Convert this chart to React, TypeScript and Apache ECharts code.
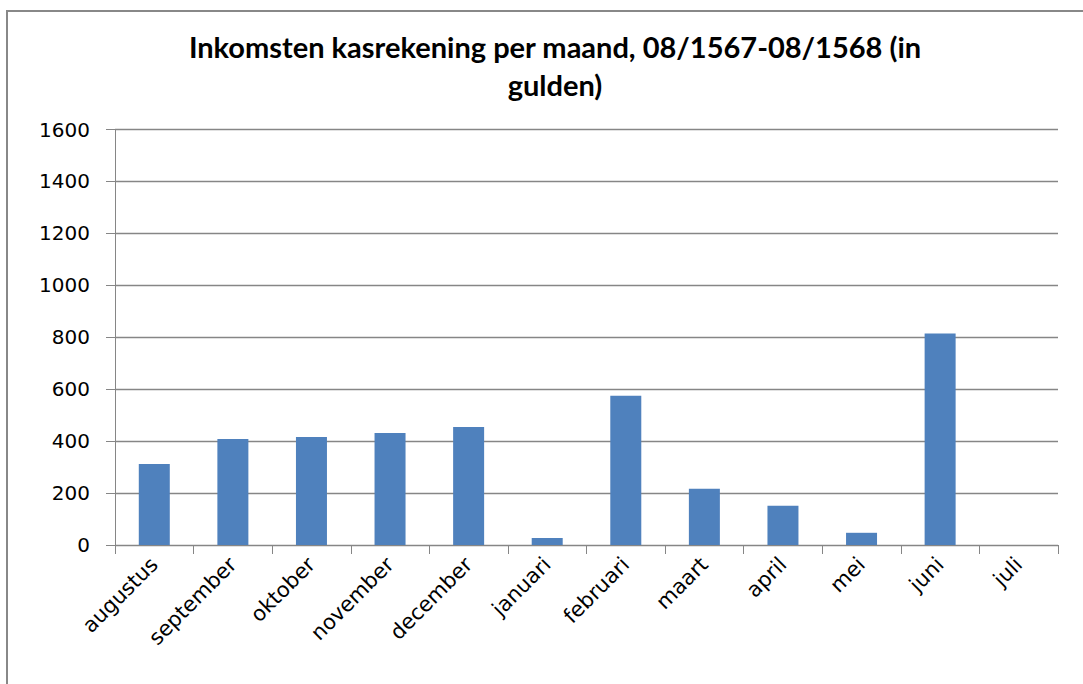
import React, { useEffect, useRef } from "react";
import * as echarts from "echarts";

const titleText = "Inkomsten kasrekening per maand, 08/1567-08/1568 (in\ngulden)";
const months = [
  "augustus", "september", "oktober", "november", "december", "januari",
  "februari", "maart", "april", "mei", "juni", "juli",
];
const income = [312, 408, 416, 431, 454, 27, 575, 217, 151, 47, 814, 0];
const yMin = 0;
const yMax = 1600;
const yStep = 200;

export default function App() {
  const ref = useRef<HTMLDivElement>(null);
  useEffect(() => {
    document.body.style.margin = "0";
    const chart = echarts.init(ref.current!, null, { renderer: "svg" });
    chart.setOption({
      animation: false,
      backgroundColor: "#ffffff",
      title: {
        text: titleText,
        left: 550,
        textAlign: "center",
        top: 22,
        textStyle: {
          fontFamily: "Lato",
          fontWeight: "bold",
          fontSize: 29,
          color: "#000000",
          lineHeight: 38,
        },
      },
      graphic: [
        {
          type: "rect",
          shape: { x: 7, y: 11, width: 1200, height: 800 },
          style: { fill: "none", stroke: "#888888", lineWidth: 2 },
          silent: true,
        },
      ],
      grid: { left: 115, right: 25, top: 129.5, bottom: 139 },
      xAxis: {
        type: "category",
        data: months,
        boundaryGap: true,
        axisLine: { show: true, lineStyle: { color: "#868686", width: 1 } },
        axisTick: { show: true, length: 9, lineStyle: { color: "#868686" } },
        axisLabel: {
          rotate: 45,
          interval: 0,
          margin: 16,
          fontFamily: "DejaVu Sans",
          fontSize: 21,
          color: "#000000",
        },
        splitLine: { show: false },
      },
      yAxis: {
        type: "value",
        min: yMin,
        max: yMax,
        interval: yStep,
        axisLine: { show: true, lineStyle: { color: "#868686", width: 1 } },
        axisTick: { show: true, length: 9, lineStyle: { color: "#868686" } },
        axisLabel: {
          margin: 25,
          fontFamily: "DejaVu Sans",
          fontSize: 20,
          color: "#000000",
          formatter: (v: number) => String(v),
        },
        splitLine: { show: true, lineStyle: { color: "#868686", width: 1.3 } },
      },
      series: [
        {
          type: "bar",
          data: income,
          barWidth: 31,
          itemStyle: { color: "#4F81BD" },
        },
      ],
    });
    return () => chart.dispose();
  }, []);
  return <div ref={ref} style={{ width: 1083, height: 684 }} />;
}
